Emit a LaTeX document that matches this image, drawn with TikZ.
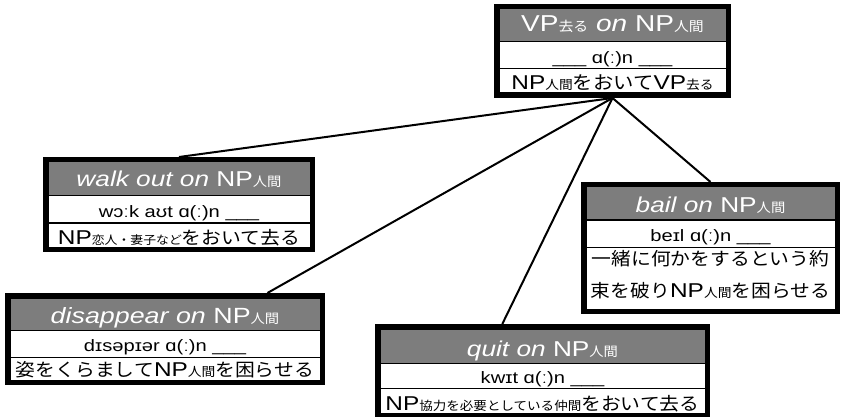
\documentclass[tikz,border=0pt]{standalone}
\usepackage{fontspec}
\setmainfont[FakeStretch=1.22]{Liberation Sans}
\newfontfamily\jpf[FakeStretch=1.1]{Noto Sans CJK JP}
\usetikzlibrary{fit,calc}
\definecolor{hdrgray}{RGB}{125,125,125}
\newcommand\jl[2]{{\fontsize{#1}{#1}\selectfont\jpf #2}}
\tikzset{
  frame/.style={inner sep=0pt, outer sep=0pt, fill=black},
  hdr/.style={fill=hdrgray},
  cellw/.style={fill=white},
  conn/.style={draw=black, line width=2pt},
  txt/.style={anchor=base, inner sep=0pt, outer sep=0pt, font=\fontsize{#1}{#1}\selectfont},
  htxt/.style={txt=#1, text=white},
}
\begin{document}
\begin{tikzpicture}[x=1pt, y=-1pt]
\useasboundingbox (0,0) rectangle (844,417);

% ---------- top box
\node[frame, fit={(494,4) (731,98)}] (T) {};
\fill[hdr] (499.5,9.5) rectangle (725.5,41);
\fill[cellw] (499.5,42.5) rectangle (725.5,68);
\fill[cellw] (499.5,69.5) rectangle (725.5,92.5);
\node[htxt=23] (T1) at (612.5,31.5) {VP\jl{13.5}{去る} \textit{on} NP\jl{13.5}{人間}};
\node[txt=16.5] (T2) at (612.5,64) {\_\_\_ ɑ(ː)n \_\_\_};
\node[txt=20] (T3) at (612.5,89.5) {NP\jl{12.5}{人間}\jl{18.5}{をおいて}VP\jl{12.5}{去る}};

% ---------- walk out on
\node[frame, fit={(43,157) (315,252)}] (W) {};
\fill[hdr] (48.5,162.5) rectangle (309.5,195);
\fill[cellw] (48.5,196.5) rectangle (309.5,222);
\fill[cellw] (48.5,223.5) rectangle (309.5,246.5);
\node[htxt=21.5] (W1) at (179,187) {\textit{walk out on} NP\jl{13}{人間}};
\node[txt=16.5] (W2) at (179,218) {wɔːk aʊt ɑ(ː)n \_\_\_};
\node[txt=20] (W3) at (179,244.5) {NP\jl{11.7}{恋人・妻子など}\jl{18}{をおいて去る}};

% ---------- bail on
\node[frame, fit={(581,182) (840,314)}] (B) {};
\fill[hdr] (586.5,187.5) rectangle (834.5,219.5);
\fill[cellw] (586.5,221) rectangle (834.5,246.5);
\fill[cellw] (586.5,248) rectangle (834.5,308.5);
\node[htxt=21.5] (B1) at (710.5,213) {\textit{bail on} NP\jl{13}{人間}};
\node[txt=16.5] (B2) at (710.5,241.5) {beɪl ɑ(ː)n \_\_\_};
\node[txt=20] (B3) at (710.5,265) {\jl{18}{一緒に何かをするという約}};
\node[txt=20] (B4) at (710.5,297) {\jl{18}{束を破り}NP\jl{12.5}{人間}\jl{18}{を困らせる}};

% ---------- disappear on
\node[frame, fit={(5,293) (325,385)}] (D) {};
\fill[hdr] (10.5,298.5) rectangle (319.5,329.5);
\fill[cellw] (10.5,331) rectangle (319.5,356.5);
\fill[cellw] (10.5,358) rectangle (319.5,379.5);
\node[htxt=22] (D1) at (165,323) {\textit{disappear on} NP\jl{13}{人間}};
\node[txt=16.5] (D2) at (165,351.5) {dɪsəpɪər ɑ(ː)n \_\_\_};
\node[txt=20] (D3) at (165,376.5) {\jl{18}{姿をくらまして}NP\jl{12.5}{人間}\jl{18}{を困らせる}};

% ---------- quit on
\node[frame, fit={(375,324) (710,418)}] (Q) {};
\fill[hdr] (380.5,329.5) rectangle (704.5,362.5);
\fill[cellw] (380.5,364) rectangle (704.5,387.5);
\fill[cellw] (380.5,389) rectangle (704.5,413);
\node[htxt=21.5] (Q1) at (542.5,356.5) {\textit{quit on} NP\jl{13}{人間}};
\node[txt=16.5] (Q2) at (542.5,383) {kwɪt ɑ(ː)n \_\_\_};
\node[txt=20] (Q3) at (542.5,410) {NP\jl{12.3}{協力を必要としている仲間}\jl{18}{をおいて去る}};

% ---------- connectors
\draw[conn] (T.south) -- (W.north);
\draw[conn] (T.south) -- (B.north);
\draw[conn] (T.south) -- ($(D.north west)!0.82!(D.north east)$);
\draw[conn] (T.south) -- ($(Q.north west)!0.38!(Q.north east)$);
\end{tikzpicture}
\end{document}
